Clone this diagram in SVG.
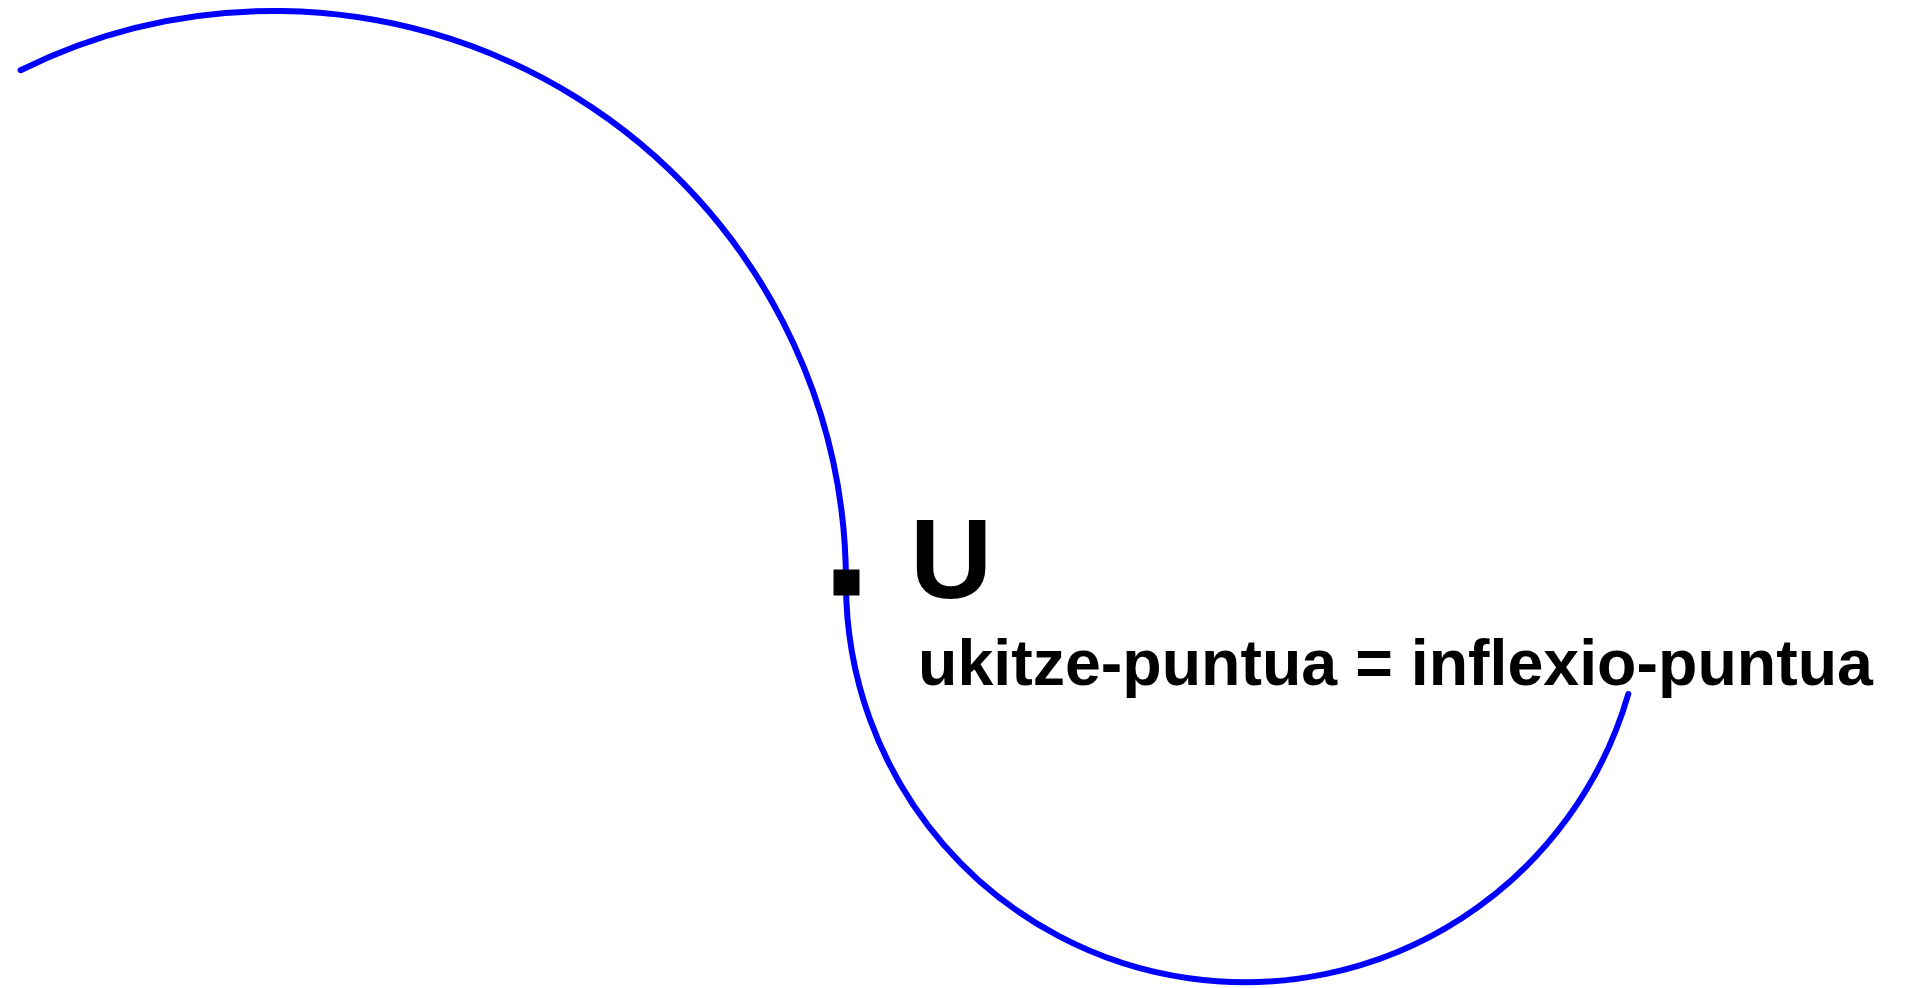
<svg xmlns="http://www.w3.org/2000/svg" width="1905" height="988" viewBox="0 0 1905 988">
<style>
.curve{fill:none;stroke:#0000ff;stroke-width:6;stroke-linecap:round}
.lbl{font-family:"Liberation Sans",Arial,sans-serif;font-weight:bold;fill:#000}
</style>
<rect width="1905" height="988" fill="#fff"/>
<g id="connectors">
<path class="curve" d="M 20.6 70.2 A 572 572 0 0 1 846 583 A 399 399 0 0 0 1628.3 694"/>
</g>
<g id="point-U">
<rect x="833.5" y="569.5" width="26" height="26" fill="#000"/>
<text class="lbl" x="910" y="598" font-size="114">U</text>
<text class="lbl" x="918" y="685" font-size="64.5">ukitze-puntua = inflexio-puntua</text>
</g>
</svg>
